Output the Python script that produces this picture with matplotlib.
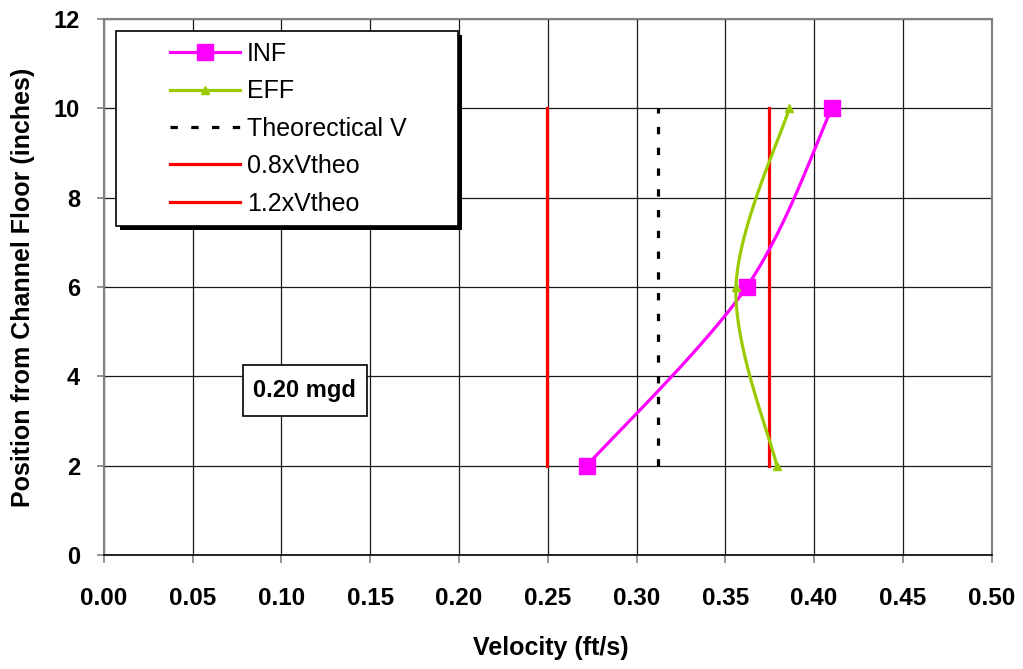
import numpy as np
import matplotlib
matplotlib.use("Agg")
import matplotlib.pyplot as plt
from matplotlib.patches import Rectangle

plt.rcParams['font.family'] = ['Liberation Sans', 'DejaVu Sans']

# data
positions = [2, 6, 10]
inf = [0.272, 0.362, 0.410]
eff = [0.379, 0.356, 0.386]
v_theo = 0.312
v_span = [2, 10]
x_ticks = [0.00, 0.05, 0.10, 0.15, 0.20, 0.25, 0.30, 0.35, 0.40, 0.45, 0.50]
y_ticks = [0, 2, 4, 6, 8, 10, 12]


def smooth(ax, xs, ys, n=40):
    # Excel style smoothed line: cubic bezier through the points, done in pixel space
    pts = ax.transData.transform(np.column_stack([xs, ys]))
    out = []
    for i in range(len(pts) - 1):
        p0 = pts[max(i - 1, 0)]
        p1 = pts[i]
        p2 = pts[i + 1]
        p3 = pts[min(i + 2, len(pts) - 1)]
        c1 = p1 + (p2 - p0) / 6
        c2 = p2 - (p3 - p1) / 6
        t = np.linspace(0, 1, n)[:, None]
        seg = (1 - t) ** 3 * p1 + 3 * (1 - t) ** 2 * t * c1 + 3 * (1 - t) * t ** 2 * c2 + t ** 3 * p2
        out.append(seg if i == 0 else seg[1:])
    out = ax.transData.inverted().transform(np.vstack(out))
    return out[:, 0], out[:, 1]


fig = plt.figure(figsize=(10.23, 6.69), dpi=100)
ax = fig.add_axes([0.1014, 0.1704, 0.868, 0.8012])
ax.set_xlim(0, 0.5)
ax.set_ylim(0, 12)
ax.set_xticks(x_ticks)
ax.set_yticks(y_ticks)
ax.set_xticklabels(["%.2f" % v for v in x_ticks])
ax.grid(True, color='#1a1a1a', lw=0.9)
ax.set_axisbelow(True)

for s in ['left', 'top', 'right']:
    ax.spines[s].set_color('#808080')
    ax.spines[s].set_linewidth(1.5)
ax.spines['bottom'].set_color('black')
ax.spines['bottom'].set_linewidth(1.2)
ax.tick_params(axis='x', direction='out', length=6, color='#808080', width=1.2, pad=17)
ax.tick_params(axis='y', direction='out', length=5, color='#808080', width=1.2, pad=12)
for lab in ax.get_xticklabels():
    lab.set_fontsize(17.5)
    lab.set_fontweight('bold')
for lab in ax.get_yticklabels():
    lab.set_fontsize(17)
    lab.set_fontweight('bold')

sx, sy = smooth(ax, inf, positions)
ax.plot(sx, sy, color='#FF00FF', lw=2.3, zorder=4)
ax.plot(inf, positions, ls='none', marker='s', ms=11, color='#FF00FF', zorder=5)
ex, ey = smooth(ax, eff, positions)
ax.plot(ex, ey, color='#99CC00', lw=2.3, zorder=4)
ax.plot(eff, positions, ls='none', marker='^', ms=6, color='#99CC00', zorder=5)
ax.plot([v_theo, v_theo], v_span, color='black', lw=2.3, ls=(0, (2.3, 4.2)), zorder=3)
ax.plot([0.8 * v_theo] * 2, v_span, color='#FF0000', lw=2.3, zorder=3)
ax.plot([1.2 * v_theo] * 2, v_span, color='#FF0000', lw=2.3, zorder=3)

# legend proxies
h_inf, = ax.plot([], [], color='#FF00FF', lw=2.3, marker='s', ms=11)
h_eff, = ax.plot([], [], color='#99CC00', lw=2.3, marker='^', ms=6)
h_th, = ax.plot([], [], color='black', lw=2.3, ls=(0, (2.3, 4.2)))
h_08, = ax.plot([], [], color='#FF0000', lw=2.3)
h_12, = ax.plot([], [], color='#FF0000', lw=2.3)

ax.add_patch(Rectangle((0.018, 0.607), 0.3855, 0.3638, transform=ax.transAxes,
                       facecolor='black', edgecolor='none', zorder=6))
ax.add_patch(Rectangle((0.0135, 0.6144), 0.3855, 0.3638, transform=ax.transAxes,
                       facecolor='white', edgecolor='black', lw=1.2, zorder=7))
leg = ax.legend([h_inf, h_eff, h_th, h_08, h_12],
                ['INF', 'EFF', 'Theorectical V', '0.8xVtheo', '1.2xVtheo'],
                loc='upper left', bbox_to_anchor=(0.0747, 0.957), frameon=False,
                borderpad=0, borderaxespad=0, fontsize=18, handlelength=2.8,
                handletextpad=0.28, labelspacing=0.535)
leg.set_zorder(8)

# flow label box
ax.add_patch(Rectangle((0.0783, 3.11), 0.0698, 1.137, facecolor='white', edgecolor='black',
                       lw=1.2, zorder=7))
ax.text(0.1132, 3.68, '0.20 mgd', fontsize=17, fontweight='bold', ha='center', va='center',
        zorder=8)

ax.set_xlabel('Velocity (ft/s)', fontsize=18, fontweight='bold', va='center')
ax.xaxis.set_label_coords(0.504, -0.1735)
ax.set_ylabel('Position from Channel Floor (inches)', fontsize=18, fontweight='bold', va='center')
ax.yaxis.set_label_coords(-0.0909, 0.5)

fig.savefig('out.png', dpi=100)
